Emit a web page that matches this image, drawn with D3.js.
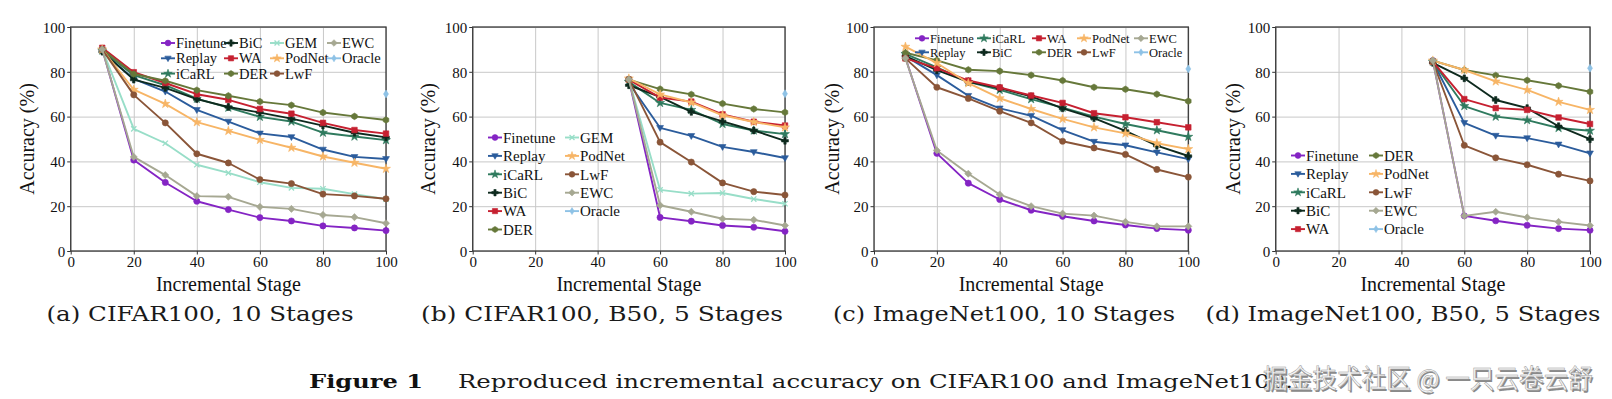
<!DOCTYPE html>
<html>
<head>
<meta charset="utf-8">
<script src="https://cdn.jsdelivr.net/npm/d3@7"></script>
<style>
  html, body { margin: 0; padding: 0; background: #fff; }
  svg { display: block; }
  .times { font-family: "Liberation Serif", "Nimbus Roman", "Tinos", "DejaVu Serif"; }
  .cm { font-family: "DejaVu Serif"; }
  .cjk { font-family: "Noto Sans CJK SC", sans-serif; }
</style>
</head>
<body>
<div id="chart"></div>
<script>
// ── Data ──
const methods = ["Finetune", "Replay", "iCaRL", "BiC", "WA", "DER", "GEM", "PodNet", "LwF", "EWC"];
const stages10 = [10, 20, 30, 40, 50, 60, 70, 80, 90, 100];
const stagesB50 = [50, 60, 70, 80, 90, 100];
const xTicks = [0, 20, 40, 60, 80, 100];
const yTicks = [0, 20, 40, 60, 80, 100];

// rows follow `methods`; null = method not reported in that panel
const cifar10Stages = [
  [90.2, 40.6, 30.6, 22.2, 18.5, 14.9, 13.4, 11.2, 10.3, 9.1],
  [89.0, 76.8, 71.2, 63.0, 57.8, 52.5, 50.9, 45.3, 42.0, 41.1],
  [89.5, 78.5, 74.0, 68.0, 64.0, 59.9, 57.8, 52.8, 51.1, 49.5],
  [89.0, 76.5, 72.8, 67.8, 64.3, 61.8, 59.1, 56.0, 52.8, 50.7],
  [90.7, 79.8, 75.0, 70.0, 67.5, 63.4, 61.3, 57.2, 54.0, 52.4],
  [90.0, 79.0, 76.0, 71.8, 69.3, 66.7, 65.1, 61.8, 60.1, 58.5],
  [90.0, 54.5, 48.1, 38.5, 34.9, 30.7, 28.2, 27.8, 25.4, 23.1],
  [90.0, 72.0, 65.7, 57.5, 53.6, 49.6, 46.1, 42.2, 39.4, 36.7],
  [90.0, 69.7, 57.2, 43.4, 39.3, 31.9, 30.1, 25.4, 24.6, 23.3],
  [90.0, 42.0, 33.9, 24.5, 24.2, 19.7, 18.8, 16.1, 15.1, 12.4]
];
const cifarB50 = [
  [76.6, 15.0, 13.3, 11.4, 10.6, 8.8],
  [75.0, 55.0, 51.4, 46.5, 44.2, 41.5],
  [75.5, 66.1, 63.0, 56.7, 53.8, 52.2],
  [74.0, 68.8, 62.1, 57.9, 53.8, 49.2],
  [76.5, 68.5, 66.7, 61.0, 57.7, 56.0],
  [76.5, 72.3, 69.9, 65.8, 63.4, 61.9],
  [76.6, 27.3, 25.6, 25.9, 23.2, 21.1],
  [77.0, 69.9, 66.3, 60.6, 57.6, 55.2],
  [76.6, 48.6, 39.7, 30.4, 26.5, 25.0],
  [76.6, 20.4, 17.5, 14.4, 13.9, 11.4]
];
const imagenet10Stages = [
  [86.3, 43.6, 30.3, 23.0, 18.2, 15.5, 13.4, 11.6, 10.0, 9.3],
  [87.0, 78.5, 69.3, 63.7, 60.4, 54.0, 48.8, 47.2, 44.0, 41.0],
  [88.0, 82.0, 75.5, 71.9, 67.8, 64.0, 60.0, 56.7, 53.9, 51.0],
  [87.0, 80.7, 75.5, 72.7, 69.0, 63.7, 59.3, 53.6, 47.0, 42.4],
  [86.0, 81.6, 76.1, 73.0, 69.4, 66.1, 61.5, 59.7, 57.5, 55.2],
  [88.5, 85.1, 80.9, 80.3, 78.5, 76.1, 73.1, 72.2, 70.0, 66.9],
  null,
  [91.2, 83.9, 74.9, 68.2, 63.4, 59.0, 55.2, 52.5, 48.1, 45.5],
  [86.0, 73.1, 68.1, 62.4, 57.2, 49.0, 46.0, 43.1, 36.4, 33.0],
  [86.0, 44.9, 34.5, 25.2, 20.0, 16.7, 15.8, 13.0, 11.0, 11.0]
];
const imagenetB50 = [
  [85.0, 15.7, 13.5, 11.5, 10.0, 9.3],
  [84.5, 57.2, 51.5, 50.4, 47.6, 43.6],
  [84.5, 64.7, 60.0, 58.4, 54.9, 53.7],
  [84.0, 77.1, 67.4, 63.8, 55.7, 49.9],
  [84.5, 67.8, 63.8, 63.0, 59.6, 56.7],
  [85.0, 80.8, 78.4, 76.2, 73.8, 71.1],
  null,
  [85.0, 80.8, 75.7, 71.9, 66.6, 63.0],
  [84.5, 47.2, 41.6, 38.5, 34.3, 31.3],
  [85.0, 15.7, 17.5, 15.0, 13.0, 11.4]
];
// Oracle is only reported at the last stage
const oracleAcc = [70.1, 70.2, 81.3, 81.6];

const subCaptions = [
  "(a) CIFAR100, 10 Stages",
  "(b) CIFAR100, B50, 5 Stages",
  "(c) ImageNet100, 10 Stages",
  "(d) ImageNet100, B50, 5 Stages"
];

// ── Styles ──
const style = {
  Finetune: { color: "#8424c4", marker: "o" },
  Replay:   { color: "#2b5c9c", marker: "v" },
  iCaRL:    { color: "#2f7a5e", marker: "*" },
  BiC:      { color: "#0e2a1e", marker: "P" },
  WA:       { color: "#c62030", marker: "s" },
  DER:      { color: "#66783a", marker: "h" },
  GEM:      { color: "#98dec8", marker: "x" },
  PodNet:   { color: "#f7b566", marker: "*" },
  LwF:      { color: "#8a5538", marker: "o" },
  EWC:      { color: "#a6a892", marker: "D" },
  Oracle:   { color: "#8ec2e6", marker: "d" }
};

const W = 1612, H = 399;
const TOP = 27, BOTTOM = 251;

const panels = [
  { left: 70.7, right: 386, xs: stages10, rows: cifar10Stages, oracle: oracleAcc[0], ylabX: 27,
    cap: { cx: 200, w: 307 },
    legend: { textX: [176, 239, 285, 342], y0: 43, dy: 15.3, nrows: 3, font: 14.5 } },
  { left: 472.7, right: 785, xs: stagesB50, rows: cifarB50, oracle: oracleAcc[1], ylabX: 428,
    cap: { cx: 602, w: 362 },
    legend: { textX: [503, 580], y0: 137.5, dy: 18.4, nrows: 6, font: 15 } },
  { left: 874, right: 1188.3, xs: stages10, rows: imagenet10Stages, oracle: oracleAcc[2], ylabX: 832,
    cap: { cx: 1004, w: 342 },
    legend: { textX: [930, 992, 1047, 1092, 1149], y0: 38.3, dy: 14, nrows: 2, font: 12.5 } },
  { left: 1275.7, right: 1590, xs: stagesB50, rows: imagenetB50, oracle: oracleAcc[3], ylabX: 1233,
    cap: { cx: 1403, w: 395 },
    legend: { textX: [1306, 1384], y0: 155.5, dy: 18.4, nrows: 5, font: 15 } }
];

// marker path centred on 0,0
function markerPath(type, r) {
  const poly = pts => "M" + pts.map(p => p.join(",")).join("L") + "Z";
  switch (type) {
    case "o": return d3.symbol(d3.symbolCircle, Math.PI * r * r)();
    case "v": return poly([[-r * 1.1, -r * 0.75], [r * 1.1, -r * 0.75], [0, r * 1.15]]);
    case "*": return d3.symbol(d3.symbolStar, r * r * 2.6)();
    case "s": return poly([[-r * 0.9, -r * 0.9], [r * 0.9, -r * 0.9], [r * 0.9, r * 0.9], [-r * 0.9, r * 0.9]]);
    case "D": return poly([[0, -r * 1.15], [r * 1.15, 0], [0, r * 1.15], [-r * 1.15, 0]]);
    case "d": return poly([[0, -r * 1.2], [r * 0.75, 0], [0, r * 1.2], [-r * 0.75, 0]]);
    case "h": return poly(d3.range(6).map(i => {
      const a = Math.PI / 6 + i * Math.PI / 3;
      return [r * 1.05 * Math.cos(a), r * 1.05 * Math.sin(a)];
    }));
    case "P": {
      const a = r * 1.1, b = r * 0.38;
      return poly([[-b, -a], [b, -a], [b, -b], [a, -b], [a, b], [b, b], [b, a], [-b, a], [-b, b], [-a, b], [-a, -b], [-b, -b]]);
    }
    case "x": {
      const a = r * 0.85;
      return `M${-a},${-a}L${a},${a}M${-a},${a}L${a},${-a}`;
    }
  }
}

function drawMarker(g, type, color, x, y, r) {
  const p = g.append("path")
    .attr("d", markerPath(type, r))
    .attr("transform", `translate(${x},${y})`);
  if (type === "x") p.attr("fill", "none").attr("stroke", color).attr("stroke-width", 1.3);
  else p.attr("fill", color).attr("stroke", color).attr("stroke-width", 0.6);
}

const svg = d3.select("#chart").append("svg")
  .attr("width", W).attr("height", H)
  .attr("viewBox", `0 0 ${W} ${H}`);

svg.append("rect").attr("width", W).attr("height", H).attr("fill", "#fff");

panels.forEach((p, pi) => {
  const g = svg.append("g");
  const x = d3.scaleLinear().domain([0, 100]).range([p.left, p.right]);
  const y = d3.scaleLinear().domain([0, 100]).range([BOTTOM, TOP]);
  const h = BOTTOM - TOP;
  const w = p.right - p.left;

  // grid
  g.append("g")
    .attr("transform", `translate(0,${BOTTOM})`)
    .call(d3.axisBottom(x).tickValues(xTicks).tickSize(-h).tickFormat(""))
    .call(s => s.select(".domain").remove())
    .selectAll("line").attr("stroke", "#c8c8c8").attr("stroke-width", 1);
  g.append("g")
    .attr("transform", `translate(${p.left},0)`)
    .call(d3.axisLeft(y).tickValues(yTicks).tickSize(-w).tickFormat(""))
    .call(s => s.select(".domain").remove())
    .selectAll("line").attr("stroke", "#c8c8c8").attr("stroke-width", 1);

  // axes
  const xa = g.append("g")
    .attr("transform", `translate(0,${BOTTOM})`)
    .call(d3.axisBottom(x).tickValues(xTicks).tickSize(3.5).tickSizeOuter(0).tickPadding(2));
  const ya = g.append("g")
    .attr("transform", `translate(${p.left},0)`)
    .call(d3.axisLeft(y).tickValues(yTicks).tickSize(3.5).tickSizeOuter(0).tickPadding(2));
  [xa, ya].forEach(a => {
    a.attr("font-family", null).attr("font-size", null);
    a.select(".domain").remove();
    a.selectAll("line").attr("stroke", "#333").attr("stroke-width", 1);
    a.selectAll("text").attr("class", "times").attr("fill", "#111").style("font-size", "15px");
  });
  ya.selectAll("text").attr("dy", "0.35em");

  // frame
  g.append("rect")
    .attr("x", p.left).attr("y", TOP).attr("width", w).attr("height", h)
    .attr("fill", "none").attr("stroke", "#3a3a3a").attr("stroke-width", 1.3);

  // axis labels
  g.append("text")
    .attr("class", "times")
    .attr("x", (p.left + p.right) / 2).attr("y", 291)
    .attr("text-anchor", "middle")
    .style("font-size", "20px").attr("fill", "#111")
    .text("Incremental Stage");
  g.append("text")
    .attr("class", "times")
    .attr("transform", `translate(${p.ylabX + 7},${(TOP + BOTTOM) / 2}) rotate(-90)`)
    .attr("text-anchor", "middle")
    .style("font-size", "20px").attr("fill", "#111")
    .text("Accuracy (%)");

  // series
  const line = d3.line()
    .x(d => x(d[0]))
    .y(d => y(d[1]));
  const shown = [];
  methods.forEach((m, mi) => {
    const vals = p.rows[mi];
    if (!vals) return;
    shown.push(m);
    const pts = p.xs.map((s, i) => [s, vals[i]]);
    const st = style[m];
    g.append("path")
      .datum(pts)
      .attr("d", line)
      .attr("fill", "none")
      .attr("stroke", st.color)
      .attr("stroke-width", 1.9)
      .attr("stroke-linejoin", "round");
    pts.forEach(d => drawMarker(g, st.marker, st.color, x(d[0]), y(d[1]), 3.1));
  });
  shown.push("Oracle");
  drawMarker(g, style.Oracle.marker, style.Oracle.color, x(100), y(p.oracle), 3.3);

  // legend (column-major like matplotlib)
  const L = p.legend;
  shown.forEach((m, i) => {
    const col = Math.floor(i / L.nrows), row = i % L.nrows;
    const tx = L.textX[col], ty = L.y0 + row * L.dy;
    const st = style[m];
    const hx0 = tx - 15, hx1 = tx - 1;
    g.append("line")
      .attr("x1", hx0).attr("x2", hx1).attr("y1", ty).attr("y2", ty)
      .attr("stroke", st.color).attr("stroke-width", 1.9);
    drawMarker(g, st.marker, st.color, (hx0 + hx1) / 2, ty, 2.9);
    g.append("text")
      .attr("class", "times")
      .attr("x", tx).attr("y", ty).attr("dy", "0.35em")
      .style("font-size", L.font + "px").attr("fill", "#111")
      .text(m);
  });

  // sub caption
  svg.append("text")
    .attr("class", "cm")
    .attr("x", p.cap.cx - p.cap.w / 2).attr("y", 321)
    .attr("textLength", p.cap.w).attr("lengthAdjust", "spacingAndGlyphs")
    .style("font-size", "21px").attr("fill", "#1a1a1a")
    .text(subCaptions[pi]);
});

// figure caption
svg.append("text")
  .attr("class", "cm")
  .attr("x", 309).attr("y", 388)
  .attr("textLength", 114).attr("lengthAdjust", "spacingAndGlyphs")
  .style("font-weight", "bold").style("font-size", "19px").attr("fill", "#111")
  .text("Figure 1");
svg.append("text")
  .attr("class", "cm")
  .attr("x", 458).attr("y", 388)
  .attr("textLength", 835).attr("lengthAdjust", "spacingAndGlyphs")
  .style("font-size", "19px").attr("fill", "#1a1a1a")
  .text("Reproduced incremental accuracy on CIFAR100 and ImageNet100.");

// watermark
const wm = "掘金技术社区 @ 一只云卷云舒";
svg.append("text")
  .attr("class", "cjk")
  .attr("x", 1264.5).attr("y", 389.5)
  .attr("textLength", 330).attr("lengthAdjust", "spacingAndGlyphs")
  .style("font-size", "26px")
  .attr("fill", "#8a8a8a")
  .text(wm);
svg.append("text")
  .attr("class", "cjk")
  .attr("x", 1263).attr("y", 388)
  .attr("textLength", 330).attr("lengthAdjust", "spacingAndGlyphs")
  .style("font-size", "26px")
  .attr("fill", "#f6f6f6").attr("stroke", "#9a9a9a").attr("stroke-width", 0.5)
  .text(wm);
</script>
</body>
</html>
